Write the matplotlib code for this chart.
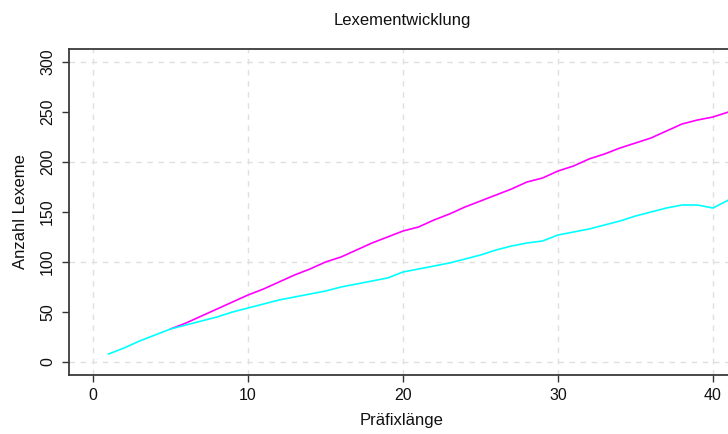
import matplotlib
matplotlib.use("Agg")
import matplotlib.pyplot as plt

plt.rcParams["font.family"] = ["Liberation Sans", "DejaVu Sans"]

# Prefix length (x) and lexeme counts for the two curves
praefix_cyan = list(range(1, 42))
werte_cyan = [8, 14, 21, 27, 33, 37, 41, 45, 50, 54,
              58, 62, 65, 68, 71, 75, 78, 81, 84, 90,
              93, 96, 99, 103, 107, 112, 116, 119, 121, 127,
              130, 133, 137, 141, 146, 150, 154, 157, 157, 154,
              162]

praefix_magenta = list(range(5, 42))
werte_magenta = [33, 39, 46, 53, 60, 67, 73, 80, 87, 93,
                 100, 105, 112, 119, 125, 131, 135, 142, 148, 155,
                 161, 167, 173, 180, 184, 191, 196, 203, 208, 214,
                 219, 224, 231, 238, 242, 245, 250]

x_ticks = [0, 10, 20, 30, 40]
y_ticks = [0, 50, 100, 150, 200, 250, 300]
grid_x = [0, 10, 20, 30, 40]
grid_y = [0, 100, 200, 300]

W, H = 728, 434
fig = plt.figure(figsize=(W / 100, H / 100), dpi=100)

left_px, right_px, top_px, bottom_px = 69, 735, 49, 375
ax = fig.add_axes([left_px / W, (H - bottom_px) / H,
                   (right_px - left_px) / W, (bottom_px - top_px) / H])

ax.set_xlim(-1.55, 41.42)
ax.set_ylim(-13, 313)

for gx in grid_x:
    ax.axvline(gx, color="#e0e0e0", lw=1.0, ls=(0, (4, 4)), zorder=0)
for gy in grid_y:
    ax.axhline(gy, color="#e0e0e0", lw=1.0, ls=(0, (4, 4)), zorder=0)

ax.plot(praefix_magenta, werte_magenta, color="#FF00FF", lw=1.2, zorder=2)
ax.plot(praefix_cyan, werte_cyan, color="#00FFFF", lw=1.2, zorder=3)

ax.set_xticks(x_ticks)
ax.set_yticks(y_ticks)
ax.tick_params(axis="both", direction="out", length=5, width=1.0,
               color="#333333", labelsize=11.5, labelcolor="#111111")
ax.tick_params(axis="x", pad=4)
ax.tick_params(axis="y", pad=5, labelrotation=90)
for lab in ax.get_yticklabels():
    lab.set_va("center")

for side in ("left", "bottom", "top"):
    ax.spines[side].set_color("#3a3a3a")
    ax.spines[side].set_linewidth(1.3)
ax.spines["right"].set_visible(False)

ax.set_title("Lexementwicklung", fontsize=12, color="#111111", pad=17)
fig.text((left_px + right_px) / 2 / W, 1 - 420 / H, "Präfixlänge",
         ha="center", va="center", fontsize=12, color="#111111")
fig.text(21 / W, 1 - 212 / H, "Anzahl Lexeme", rotation=90,
         ha="center", va="center", fontsize=12, color="#111111")

fig.savefig("out.png", dpi=100)
